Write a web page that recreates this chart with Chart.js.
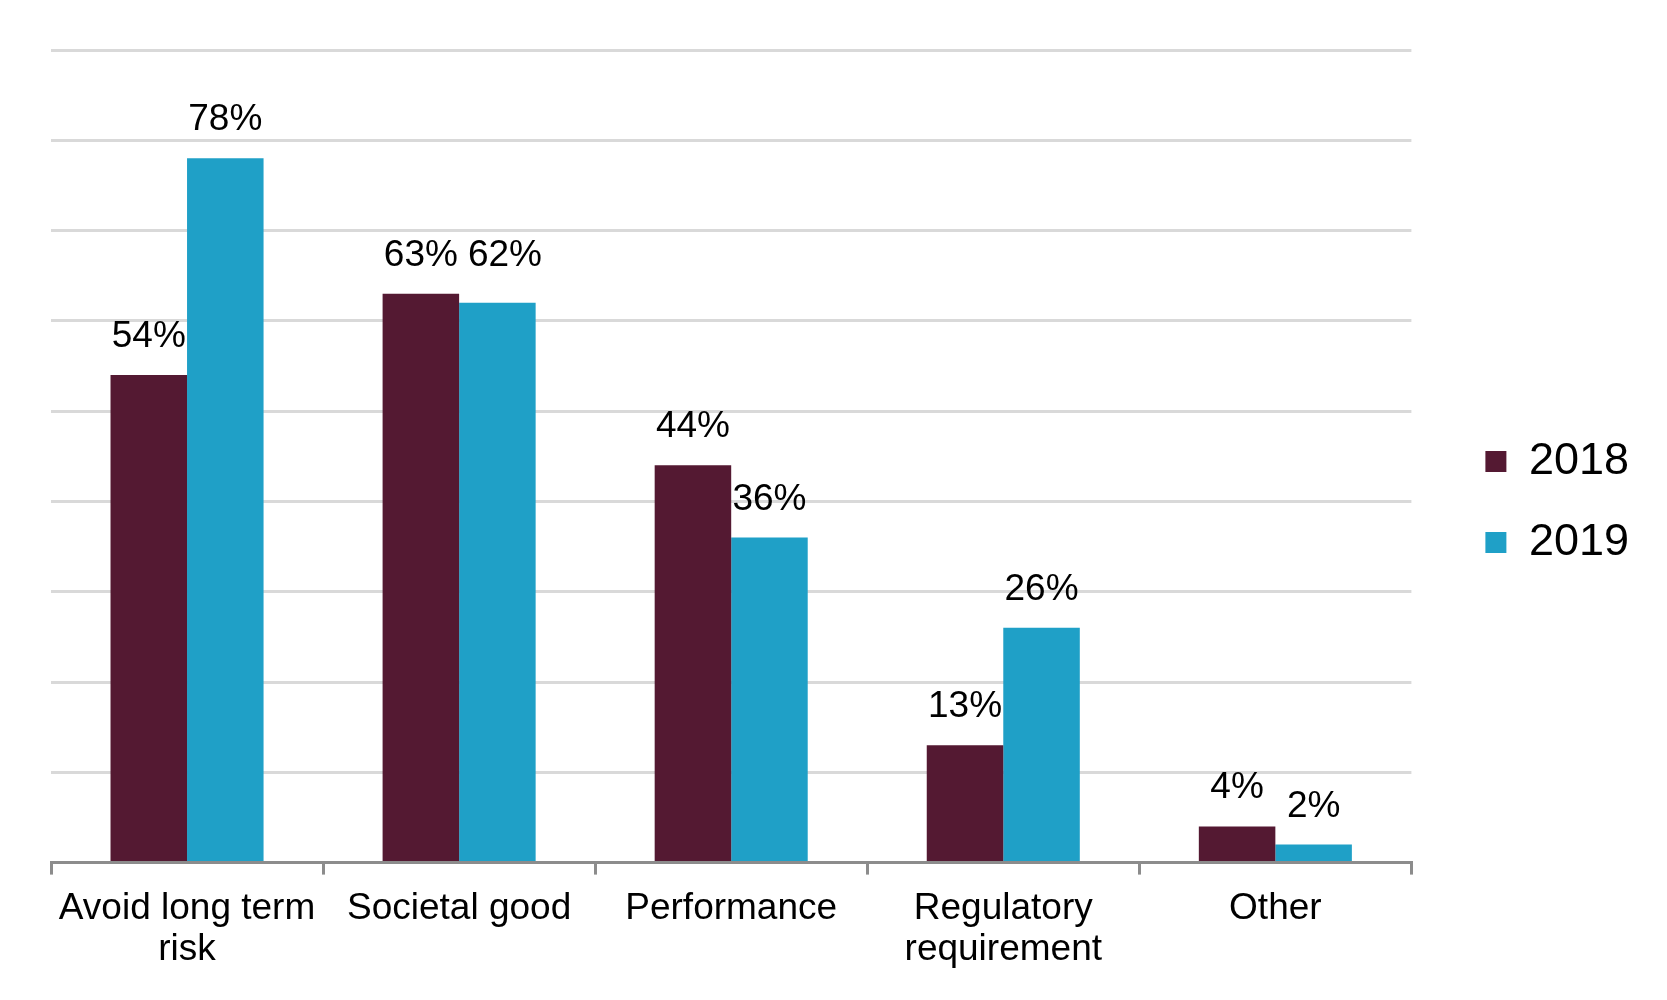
<!DOCTYPE html>
<html>
<head>
<meta charset="utf-8">
<script src="https://cdn.jsdelivr.net/npm/chart.js@4/dist/chart.umd.min.js"></script>
<style>
  html, body { margin: 0; padding: 0; background: #ffffff; }
  #wrap { width: 1667px; height: 1000px; }
</style>
</head>
<body>
<div id="wrap"><canvas id="chartBars"></canvas></div>
<script>
// categories and series
var categories = [["Avoid long term", "risk"], "Societal good", "Performance", ["Regulatory", "requirement"], "Other"];
var seriesNames = ["2018", "2019"];
var values2018 = [54, 63, 44, 13, 4];
var values2019 = [78, 62, 36, 26, 2];
var yTicks = [0, 10, 20, 30, 40, 50, 60, 70, 80, 90];

const COLORS = ["#541932", "#1FA0C7"];
const FONT = "'Liberation Sans', Arial, sans-serif";

// draws the "54%" style labels above every bar,
// nudging the 2019 label when it would run into the 2018 one
const barLabels = {
    id: "barLabels",
    afterDatasetsDraw(chart) {
        const c = chart.ctx;
        c.save();
        c.font = "37px " + FONT;
        c.fillStyle = "#000";
        c.textAlign = "center";
        c.textBaseline = "alphabetic";
        const first = chart.getDatasetMeta(0).data;
        chart.data.datasets.forEach(function(ds, di) {
            chart.getDatasetMeta(di).data.forEach(function(bar, i) {
                let txt = ds.data[i] + "%";
                let x = bar.x, y = bar.y - 28;
                if (di === 1) {
                    let prev = first[i];
                    let prevTxt = chart.data.datasets[0].data[i] + "%";
                    let py = prev.y - 28;
                    let need = (c.measureText(prevTxt).width + c.measureText(txt).width) / 2 + 10;
                    if (Math.abs(py - y) < 36 && x - prev.x < need) {
                        y = py;
                        x = prev.x + need;
                    }
                }
                c.fillText(txt, x, y);
            });
        });
        c.restore();
    }
};

var ctx = document.getElementById("chartBars").getContext("2d");
var chartBars = new Chart(ctx, {
    type: "bar",
    data: {
        labels: categories,
        datasets: [
            { label: seriesNames[0], data: values2018, backgroundColor: COLORS[0], categoryPercentage: 0.5625, barPercentage: 1.0 },
            { label: seriesNames[1], data: values2019, backgroundColor: COLORS[1], categoryPercentage: 0.5625, barPercentage: 1.0 }
        ]
    },
    options: {
        responsive: true,
        maintainAspectRatio: false,
        animation: false,
        layout: { padding: { top: 20, left: 51, right: 28, bottom: 16 } },
        scales: {
            x: {
                offset: true,
                grid: { display: true, offset: true, drawOnChartArea: false, drawTicks: true, tickLength: 12, color: "#8c8c8c", lineWidth: 3 },
                border: { display: true, color: "#8c8c8c", width: 3 },
                ticks: { color: "#000", padding: 14, maxRotation: 0, autoSkip: false, font: { family: FONT, size: 37, lineHeight: 1.1 } }
            },
            y: {
                min: 0,
                max: 90,
                afterBuildTicks: function(s) { s.ticks = yTicks.map(function(v) { return { value: v }; }); },
                afterFit: function(s) { s.width = 0; },
                grid: { color: "#d9d9d9", lineWidth: 3, drawTicks: false },
                border: { display: false },
                ticks: { display: false }
            },
            // empty axes used only as spacers
            gap: {
                type: "linear",
                position: "right",
                display: true,
                afterFit: function(s) { s.width = 38; },
                grid: { display: false },
                border: { display: false },
                ticks: { display: false }
            },
            gapTop: {
                type: "linear",
                axis: "x",
                position: "top",
                display: true,
                afterFit: function(s) { s.height = 30; },
                grid: { display: false },
                border: { display: false },
                ticks: { display: false }
            }
        },
        plugins: {
            legend: {
                display: true,
                position: "right",
                align: "center",
                labels: { boxWidth: 21, boxHeight: 21, padding: 36, color: "#000", font: { family: FONT, size: 45 } }
            },
            tooltip: { enabled: false }
        }
    },
    plugins: [barLabels]
});
</script>
</body>
</html>
